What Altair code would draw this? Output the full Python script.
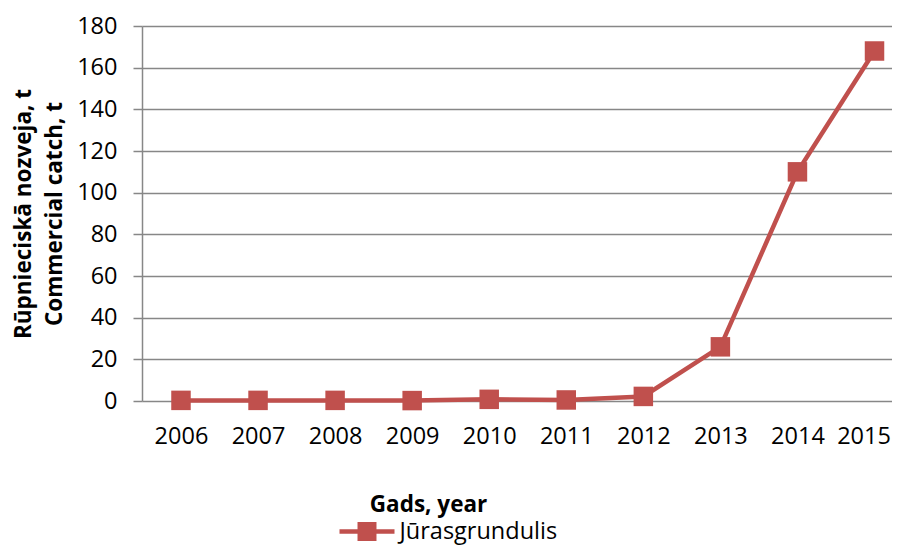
import altair as alt
import pandas as pd

years = [2006, 2007, 2008, 2009, 2010, 2011, 2012, 2013, 2014, 2015]
catch = [0.3, 0.3, 0.3, 0.2, 0.8, 0.5, 2.2, 26, 110, 168]
series_name = "Jūrasgrundulis"
y_ticks = [0, 20, 40, 60, 80, 100, 120, 140, 160, 180]

df = pd.DataFrame({"year": years, "catch": catch, "series": [series_name] * len(years)})

RED = "#C0504D"
GRID = "#878787"
FONT = "Open Sans"

x_enc = alt.X(
    "year:Q",
    scale=alt.Scale(domain=[2005.494, 2015.227], nice=False, zero=False),
    axis=alt.Axis(
        values=years, format="d", title="Gads, year", grid=False, ticks=False, domain=False,
        labelFontSize=23.5, labelFont=FONT, labelColor="black", labelPadding=23,
        labelFlush=False, labelOverlap=False,
        labelOffset={"expr": "datum.value == 2015 ? -11 : 0"},
        titleX=286, titleY=110, titleBaseline="alphabetic", titleAlign="center",
        titleFontSize=22.5, titleFont=FONT, titleFontWeight="bold", titleColor="black",
    ),
)
y_enc = alt.Y(
    "catch:Q",
    scale=alt.Scale(domain=[0, 180], nice=False),
    axis=alt.Axis(
        values=y_ticks, title=["Rūpnieciskā nozveja, t", "Commercial catch, t"],
        grid=True, gridColor=GRID, gridWidth=1.5,
        domain=True, domainColor=GRID, domainWidth=1.5,
        ticks=True, tickColor=GRID, tickWidth=1.5, tickSize=9,
        labelFontSize=23.5, labelFont=FONT, labelColor="black", labelPadding=16,
        titleX=-119, titleY=187.5, titleAngle=270, titleAlign="center",
        titleBaseline="middle", titleLineHeight=31,
        titleFontSize=22.5, titleFont=FONT, titleFontWeight="bold", titleColor="black",
    ),
)

base = alt.Chart(df)
line = base.mark_line(color=RED, strokeWidth=4.5).encode(x=x_enc, y=y_enc)
points = base.mark_point(shape="square", filled=True, size=380, opacity=1).encode(
    x=alt.X("year:Q"),
    y=alt.Y("catch:Q"),
    color=alt.Color(
        "series:N",
        scale=alt.Scale(range=[RED]),
        legend=alt.Legend(
            orient="none", legendX=197.5, legendY=478, title=None,
            symbolType="M-1,-0.08H1V0.08H-1Z M-0.345,-0.345H0.345V0.345H-0.345Z",
            symbolSize=3025, symbolStrokeWidth=0, symbolOpacity=1,
            labelFontSize=23.5, labelFont=FONT, labelColor="black", labelOffset=5,
            padding=0,
        ),
    ),
)

chart = (
    alt.layer(line, points)
    .properties(
        width=750, height=375,
        autosize=alt.AutoSizeParams(type="none"),
        padding={"left": 134, "top": 18, "right": 0, "bottom": 146},
    )
    .configure_view(stroke=None)
)

chart.save("out.html", embed_options={"renderer": "svg", "actions": False})
